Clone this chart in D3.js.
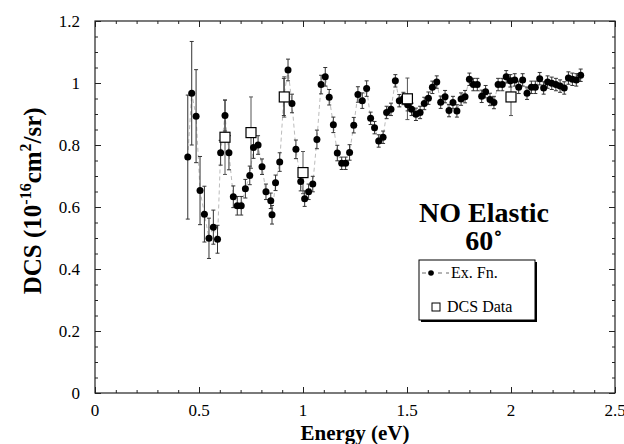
<!DOCTYPE html>
<html>
<head>
<meta charset="utf-8">
<script src="https://cdn.jsdelivr.net/npm/d3@7"></script>
<style>
  body { margin: 0; background: #fff; }
  svg, svg text { font-family: "Liberation Serif", "Tinos", "Times New Roman", Times, "DejaVu Serif", serif; }
</style>
</head>
<body>
<div class="chart"></div>
<script>
// Ex. Fn. data (energy eV, DCS, error)
const exX = [0.446, 0.465, 0.486, 0.505, 0.526, 0.548, 0.569, 0.589, 0.604, 0.625,
  0.644, 0.665, 0.684, 0.703, 0.723, 0.744, 0.762, 0.784, 0.803, 0.822,
  0.845, 0.851, 0.868, 0.888, 0.908, 0.928, 0.947, 0.966, 0.989, 1.008,
  1.027, 1.047, 1.067, 1.087, 1.107, 1.126, 1.146, 1.165, 1.186, 1.205,
  1.224, 1.244, 1.264, 1.285, 1.306, 1.325, 1.344, 1.364, 1.385, 1.402,
  1.423, 1.444, 1.463, 1.483, 1.503, 1.522, 1.543, 1.563, 1.583, 1.603,
  1.622, 1.643, 1.662, 1.683, 1.702, 1.721, 1.740, 1.760, 1.779, 1.800,
  1.819, 1.838, 1.859, 1.878, 1.899, 1.918, 1.938, 1.958, 1.977, 1.997,
  2.018, 2.037, 2.056, 2.077, 2.098, 2.117, 2.138, 2.157, 2.176, 2.196,
  2.216, 2.236, 2.256, 2.276, 2.295, 2.314, 2.335];
const exY = [0.761, 0.967, 0.893, 0.653, 0.577, 0.499, 0.535, 0.496, 0.775, 0.895,
  0.775, 0.633, 0.604, 0.604, 0.659, 0.702, 0.792, 0.800, 0.730, 0.649,
  0.620, 0.575, 0.678, 0.745, 0.955, 1.042, 0.934, 0.786, 0.682, 0.627,
  0.649, 0.674, 0.818, 0.995, 1.020, 0.954, 0.865, 0.774, 0.741, 0.741,
  0.776, 0.864, 0.963, 0.943, 0.982, 0.886, 0.856, 0.813, 0.825, 0.905,
  0.915, 1.007, 0.943, 0.950, 0.930, 0.915, 0.899, 0.905, 0.934, 0.951,
  0.986, 1.003, 0.938, 0.956, 0.911, 0.937, 0.910, 0.948, 0.956, 1.012,
  0.995, 0.995, 0.957, 0.972, 0.947, 0.937, 0.995, 0.995, 1.020, 1.007,
  1.010, 0.986, 1.010, 0.967, 0.986, 0.986, 1.014, 0.984, 1.003, 0.999,
  0.995, 0.990, 0.984, 1.016, 1.012, 1.010, 1.025];
const exErr = [0.20, 0.167, 0.15, 0.11, 0.09, 0.065, 0.055, 0.045, 0.04, 0.05,
  0.055, 0.035, 0.03, 0.03, 0.03, 0.03, 0.035, 0.03, 0.025, 0.025,
  0.025, 0.03, 0.025, 0.03, 0.06, 0.035, 0.03, 0.03, 0.03, 0.025,
  0.025, 0.025, 0.03, 0.03, 0.03, 0.025, 0.025, 0.025, 0.02, 0.02,
  0.025, 0.025, 0.025, 0.025, 0.025, 0.02, 0.02, 0.02, 0.02, 0.02,
  0.02, 0.02, 0.02, 0.02, 0.02, 0.02, 0.02, 0.02, 0.02, 0.02,
  0.02, 0.02, 0.02, 0.02, 0.02, 0.02, 0.02, 0.02, 0.02, 0.02,
  0.02, 0.02, 0.02, 0.02, 0.02, 0.02, 0.02, 0.02, 0.02, 0.02,
  0.02, 0.02, 0.02, 0.02, 0.02, 0.02, 0.02, 0.02, 0.02, 0.02,
  0.02, 0.02, 0.02, 0.02, 0.02, 0.02, 0.02];

// DCS data
const dcsX = [0.625, 0.75, 0.91, 1.0, 1.502, 2.0];
const dcsY = [0.825, 0.84, 0.955, 0.711, 0.949, 0.955];
const dcsErr = [0.12, 0.115, 0.065, 0.068, 0.067, 0.06];

const xTicks = [0, 0.5, 1, 1.5, 2, 2.5];
const yTicks = [0, 0.2, 0.4, 0.6, 0.8, 1, 1.2];

var margin = { top: 21, right: 9, bottom: 51, left: 95 };
var width = 624 - margin.left - margin.right,
  height = 444 - margin.top - margin.bottom;

const svg = d3.select(".chart").append("svg")
  .attr("width", 624)
  .attr("height", 444)
  .attr("font-family", "'Liberation Serif', Tinos, 'Times New Roman', Times, serif")
  .append("g")
  .attr("transform", "translate(" + margin.left + "," + margin.top + ")");

const x = d3.scaleLinear().domain([0, 2.5]).range([0, width]);
const y = d3.scaleLinear().domain([0, 1.2]).range([height, 0]);

// inside ticks on all four sides
const xMinor = d3.range(0, 2.5001, 0.1);
const yMinor = d3.range(0, 1.2001, 0.05);

function tickGroup(axis, transform) {
  svg.append("g")
    .attr("transform", transform)
    .call(axis)
    .call(g => g.select(".domain").remove())
    .call(g => g.selectAll("line").attr("stroke", "#222"));
}

tickGroup(d3.axisBottom(x).tickValues(xMinor).tickSize(-3).tickFormat(""), "translate(0," + height + ")");
tickGroup(d3.axisBottom(x).tickValues(xTicks).tickSize(-6).tickFormat(""), "translate(0," + height + ")");
tickGroup(d3.axisTop(x).tickValues(xMinor).tickSize(-3).tickFormat(""), "translate(0,0)");
tickGroup(d3.axisTop(x).tickValues(xTicks).tickSize(-6).tickFormat(""), "translate(0,0)");
tickGroup(d3.axisLeft(y).tickValues(yMinor).tickSize(-3).tickFormat(""), "translate(0,0)");
tickGroup(d3.axisLeft(y).tickValues(yTicks).tickSize(-6).tickFormat(""), "translate(0,0)");
tickGroup(d3.axisRight(y).tickValues(yMinor).tickSize(-3).tickFormat(""), "translate(" + width + ",0)");
tickGroup(d3.axisRight(y).tickValues(yTicks).tickSize(-6).tickFormat(""), "translate(" + width + ",0)");

// tick labels
svg.append("g").selectAll("text").data(xTicks).enter().append("text")
  .attr("x", d => x(d))
  .attr("y", height + 23)
  .attr("text-anchor", "middle")
  .attr("font-size", 17)
  .text(d => d);

svg.append("g").selectAll("text").data(yTicks).enter().append("text")
  .attr("x", -15)
  .attr("y", d => y(d) + 6)
  .attr("text-anchor", "end")
  .attr("font-size", 17)
  .text(d => d);

// frame
svg.append("rect")
  .attr("width", width)
  .attr("height", height)
  .attr("fill", "none")
  .attr("stroke", "#222")
  .attr("stroke-width", 1.2);

// axis titles
svg.append("text")
  .attr("x", width / 2)
  .attr("y", height + 47)
  .attr("text-anchor", "middle")
  .attr("font-size", 21)
  .attr("font-weight", "bold")
  .text("Energy (eV)");

const yTitle = svg.append("text")
  .attr("transform", "translate(" + (-54) + "," + (y(0.62)) + ") rotate(-90)")
  .attr("text-anchor", "middle")
  .attr("font-size", 25)
  .attr("font-weight", "bold");
yTitle.append("tspan").text("DCS (10");
yTitle.append("tspan").attr("font-size", 16).attr("dy", -10).text("-16");
yTitle.append("tspan").attr("dy", 10).text("cm");
yTitle.append("tspan").attr("font-size", 16).attr("dy", -10).text("2");
yTitle.append("tspan").attr("dy", 10).text("/sr)");

// Ex. Fn. series
const exData = exX.map((d, i) => ({ x: d, y: exY[i], e: exErr[i] }));
const dcsData = dcsX.map((d, i) => ({ x: d, y: dcsY[i], e: dcsErr[i] }));

svg.append("path")
  .datum(exData)
  .attr("fill", "none")
  .attr("stroke", "#aaa")
  .attr("stroke-width", 0.8)
  .attr("stroke-dasharray", "4,3")
  .attr("d", d3.line().x(d => x(d.x)).y(d => y(d.y)));

function errorBars(data, color) {
  const g = svg.append("g").attr("stroke", color).attr("stroke-width", 1);
  g.selectAll(".bar").data(data).enter().append("line")
    .attr("x1", d => x(d.x)).attr("x2", d => x(d.x))
    .attr("y1", d => y(d.y - d.e)).attr("y2", d => y(d.y + d.e));
  g.selectAll(".capT").data(data).enter().append("line")
    .attr("x1", d => x(d.x) - 2).attr("x2", d => x(d.x) + 2)
    .attr("y1", d => y(d.y + d.e)).attr("y2", d => y(d.y + d.e));
  g.selectAll(".capB").data(data).enter().append("line")
    .attr("x1", d => x(d.x) - 2).attr("x2", d => x(d.x) + 2)
    .attr("y1", d => y(d.y - d.e)).attr("y2", d => y(d.y - d.e));
}

errorBars(dcsData, "#555");
errorBars(exData, "#333");

svg.append("g").selectAll("circle").data(exData).enter().append("circle")
  .attr("cx", d => x(d.x))
  .attr("cy", d => y(d.y))
  .attr("r", 3.5)
  .attr("fill", "#000");

svg.append("g").selectAll("rect").data(dcsData).enter().append("rect")
  .attr("x", d => x(d.x) - 5)
  .attr("y", d => y(d.y) - 5)
  .attr("width", 10)
  .attr("height", 10)
  .attr("fill", "#fff")
  .attr("stroke", "#000")
  .attr("stroke-width", 1.2);

// title
svg.append("text")
  .attr("x", 389)
  .attr("y", 201)
  .attr("text-anchor", "middle")
  .attr("font-size", 28)
  .attr("font-weight", "bold")
  .text("NO Elastic");
svg.append("text")
  .attr("x", 389)
  .attr("y", 229)
  .attr("text-anchor", "middle")
  .attr("font-size", 28)
  .attr("font-weight", "bold")
  .text("60\u02DA");

// legend
const lx = 419 - margin.left, ly = 260 - margin.top;
const legend = svg.append("g").attr("transform", "translate(" + lx + "," + ly + ")");
legend.append("rect")
  .attr("x", 2).attr("y", 2).attr("width", 116).attr("height", 60)
  .attr("fill", "#000");
legend.append("rect")
  .attr("width", 116).attr("height", 60)
  .attr("fill", "#fff").attr("stroke", "#000").attr("stroke-width", 1);
legend.append("line")
  .attr("x1", 3).attr("x2", 30).attr("y1", 13).attr("y2", 13)
  .attr("stroke", "#444").attr("stroke-width", 0.8).attr("stroke-dasharray", "4,4");
legend.append("circle")
  .attr("cx", 12).attr("cy", 13).attr("r", 2.8).attr("fill", "#000");
legend.append("text")
  .attr("x", 32).attr("y", 18).attr("font-size", 16).text("Ex. Fn.");
legend.append("rect")
  .attr("x", 13).attr("y", 43).attr("width", 8).attr("height", 8)
  .attr("fill", "#fff").attr("stroke", "#000").attr("stroke-width", 1);
legend.append("text")
  .attr("x", 28).attr("y", 52).attr("font-size", 16).text("DCS Data");
</script>
</body>
</html>
